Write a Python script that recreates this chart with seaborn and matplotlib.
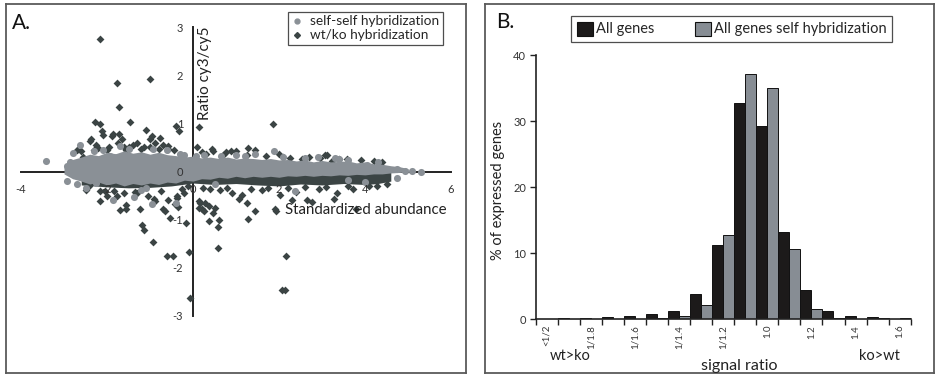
import numpy as np
import pandas as pd
import matplotlib
matplotlib.use('Agg')
import matplotlib.pyplot as plt
from matplotlib.lines import Line2D
from matplotlib.patches import Patch
import seaborn as sns

# ---- panel A: log ratio vs standardized abundance ----
# single spots (outside the dense cloud)
wtko_x = [-2.16, -1.76, -1.01, -1.73, -2.28, -2.16, -1.46, -1.09, -0.39, -0.32, 0.13, 1.85, -2.12, -1.71,
          -2.09, -1.86, -1.66, -0.77, -0.88, -2.38, -2.25, -1.39, -1.74, -0.57, -1.0, 1.29, 1.99, 3.11,
          0.09, 0.47, 0.89, -2.70, -2.55, -1.89, -2.39, -1.0, -0.95, -0.57, -1.2, -1.6, 0.21, 0.44,
          0.76, 0.99, 1.45, 1.26, 2.26, 2.53, 3.07, 2.96, 3.23, 3.58, 4.2, -2.0, -1.3, -0.7, -2.2, -1.55,
          -2.43, -2.16, -1.83, -1.70, -1.56, -1.56, -1.19, -1.15, -0.92, -0.61, -0.47, -0.09, -0.17, -0.07,
          0.57, 0.59, 0.60, 0.38, 0.47, 0.15, 0.20, 0.25, 0.16, 0.27, 0.37, 1.27, 1.45, 1.93, 2.17, 2.07,
          2.13, 2.03, 2.77, 3.27, 3.80, -0.43, -0.37, -0.69, -0.58, -0.90, -1.04, -2.39, -2.16, -1.77,
          -1.23, -0.88, -0.66, -0.53, -0.36, -0.11, 0.24, 0.63, 1.14, 1.6, 1.06, 0.51, 0.13, -0.38, 1.26,
          1.91, 2.30, 2.65, 2.92, 3.35, 3.73, 4.27, -1.3, -2.0, -0.2, 0.9, 2.4,
          -2.6, -2.3, -1.95, -1.5, -1.15, -0.8, -0.45, 0.3, 0.7, 1.7, 2.1, 2.7, 3.4, 3.9, 4.4,
          -2.5, -2.05, -1.6, -1.35, -0.75, -0.25, 0.4, 0.8, 1.35, 1.75, 2.2, 2.6, 3.1, 3.6, 4.1, 4.5]
wtko_y = [2.76, 1.84, 1.93, 1.34, 1.03, 0.98, 1.03, 0.86, 0.95, 0.85, 0.92, 0.98, 0.84, 0.78,
          0.75, 0.77, 0.68, 0.69, 0.60, 0.67, 0.55, 0.56, 0.60, 0.53, 0.50, 0.48, 0.37, 0.35,
          0.52, 0.42, 0.42, 0.44, 0.30, 0.73, 0.63, 0.67, 0.73, 0.46, 0.46, 0.50, 0.40, 0.46,
          0.40, 0.43, 0.44, 0.35, 0.28, 0.25, 0.35, 0.29, 0.22, 0.25, 0.22, 0.45, 0.60, 0.55, 0.48, 0.45,
          -0.31, -0.41, -0.41, -0.80, -0.78, -0.69, -1.12, -1.21, -1.47, -1.75, -1.75, -1.68, -1.08, -2.64,
          -1.59, -1.15, -1.0, -1.03, -0.86, -0.76, -0.78, -0.82, -0.65, -0.66, -0.72, -0.98, -0.83, -0.83, -1.76, -2.47,
          -2.47, -0.49, -0.63, -0.57, -0.79, -0.67, -0.55, -0.78, -0.59, -0.58, -0.51, -0.27, -0.62, -0.51,
          -0.79, -0.62, -0.82, -0.96, -0.73, -0.31, -0.34, -0.38, -0.48, -0.38, -0.58, -0.76, -0.62, -0.52, -0.65,
          -0.79, -0.60, -0.60, -0.37, -0.44, -0.37, -0.30, -0.45, -0.50, -0.45, -0.45, -0.42,
          0.42, 0.45, 0.5, 0.52, 0.5, 0.47, 0.44, 0.36, 0.35, 0.33, 0.31, 0.3, 0.27, 0.24, 0.2,
          -0.38, -0.4, -0.44, -0.42, -0.4, -0.36, -0.36, -0.35, -0.36, -0.35, -0.34, -0.33, -0.32, -0.31, -0.3, -0.27]
self_x = [-3.42, -2.94, -2.94, -2.85, -2.79, -2.63, -1.87, -1.38, -0.95, -0.40, -2.26, -1.93, -1.70, -0.94,
          -0.30, 0.08, 1.45, 3.60, 4.05, 4.74, 4.74, 4.93, 5.09, 5.30, 2.37, 3.60, 4.00, 1.88, -2.5, -1.1,
          -0.6, 2.9, 3.3, -2.3, -1.2, 0.5, 1.0, -2.7, -2.1, -1.5, -0.2, 0.25, 0.65, 1.2, 2.1, 2.6, 3.4, 4.3]
self_y = [0.21, -0.20, 0.12, 0.20, 0.39, 0.55, -0.60, -0.53, -0.68, -0.66, -0.23, 0.32, 0.53, 0.46,
          0.36, 0.33, 0.37, 0.24, 0.14, -0.14, 0.06, 0.01, 0.01, 0.0, -0.40, -0.18, -0.21, 0.43, -0.35, -0.35,
          0.45, 0.30, 0.28, 0.42, -0.38, -0.25, 0.35, -0.27, 0.45, 0.47, 0.35, 0.34, 0.33, 0.32, 0.3, 0.28, 0.25, 0.19]

# dense cores (overlapping spots): upper and lower edge along abundance
self_core_x = [-3.0, -2.8, -2.6, -2.4, -2.2, -2.0, -1.8, -1.6, -1.4, -1.2, -1.0, -0.8, -0.6, -0.4, -0.2,
               0.0, 0.2, 0.4, 0.6, 0.8, 1.0, 1.2, 1.4, 1.6, 1.8, 2.0, 2.2, 2.4, 2.6, 2.8, 3.0, 3.2, 3.4,
               3.6, 3.8, 4.0, 4.2, 4.4, 4.6, 4.8, 5.0]
self_core_hi = [0.1, 0.25, 0.3, 0.36, 0.33, 0.4, 0.37, 0.43, 0.38, 0.41, 0.36, 0.4, 0.35, 0.33, 0.3,
                0.32, 0.28, 0.3, 0.27, 0.3, 0.26, 0.28, 0.27, 0.25, 0.27, 0.24, 0.25, 0.22, 0.24, 0.2, 0.23,
                0.2, 0.21, 0.22, 0.18, 0.2, 0.16, 0.15, 0.12, 0.1, 0.06]
self_core_lo = [-0.05, -0.15, -0.2, -0.26, -0.22, -0.28, -0.24, -0.3, -0.25, -0.28, -0.24, -0.27, -0.22,
                -0.24, -0.18, -0.2, -0.15, -0.16, -0.12, -0.14, -0.1, -0.13, -0.1, -0.12, -0.1, -0.12,
                -0.09, -0.1, -0.08, -0.1, -0.08, -0.09, -0.07, -0.08, -0.06, -0.07, -0.05, -0.05, -0.03,
                -0.02, 0.0]
wtko_core_x = [-2.6, -2.0, -1.5, -1.0, -0.5, 0.0, 0.5, 1.0, 1.5, 2.0, 2.5, 3.0, 3.5, 4.0, 4.3, 4.6]
wtko_core_hi = [0.25, 0.35, 0.38, 0.35, 0.32, 0.28, 0.26, 0.24, 0.22, 0.2, 0.18, 0.16, 0.15, 0.13, 0.12, 0.08]
wtko_core_lo = [-0.28, -0.32, -0.34, -0.33, -0.3, -0.24, -0.27, -0.25, -0.28, -0.3, -0.26, -0.28, -0.25,
                -0.27, -0.25, -0.2]

# ---- panel B: distribution of signal ratios ----
bins = list(range(17))
bin_labels = ['<1/2', '1/1.8', '1/1.6', '1/1.4', '1/1.2', '1.0', '1.2', '1.4', '1.6']
all_genes = [0.1, 0.2, 0.15, 0.3, 0.45, 0.85, 1.2, 3.85, 11.2, 32.8, 29.3, 13.3, 4.4, 1.2, 0.55, 0.3, 0.1]
self_hyb = [0.05, 0.05, 0.05, 0.1, 0.1, 0.25, 0.5, 2.2, 12.8, 37.1, 35.0, 10.6, 1.5, 0.2, 0.1, 0.25, 0.15]

dark = '#3b4444'
light = '#8a9096'
bar_black = '#1c1a1a'
bar_grey = '#878d94'

sns.set_theme(style='white')
plt.rcParams['font.family'] = ['Lato', 'DejaVu Sans']
plt.rcParams['axes.unicode_minus'] = False

W, H = 936, 375
fig = plt.figure(figsize=(W / 100, H / 100), dpi=100)

def frame(rect):
    f = fig.add_axes(rect)
    f.set_xticks([]); f.set_yticks([])
    for s in f.spines.values():
        s.set_color('#5a5a5a'); s.set_linewidth(1.3)
    f.set_zorder(-1)
    return f

frame([6 / W, 2 / H, 460 / W, 369 / H])
frame([485 / W, 2 / H, 449 / W, 369 / H])

# panel A
axA = fig.add_axes([21 / W, (H - 315.7) / H, 430 / W, 288.4 / H])
axA.patch.set_alpha(0)
axA.fill_between(wtko_core_x, wtko_core_lo, wtko_core_hi, color=dark, lw=0, zorder=3)
sns.scatterplot(x=wtko_x, y=wtko_y, color=dark, marker='D', s=16, linewidth=0, ax=axA, zorder=3)
axA.fill_between(self_core_x, self_core_lo, self_core_hi, color=light, lw=0, zorder=4)
sns.scatterplot(x=self_x, y=self_y, color=light, marker='o', s=26, linewidth=0, ax=axA, zorder=4)
axA.set_xlim(-4, 6)
axA.set_ylim(-3, 3)
for side in ['top', 'right']:
    axA.spines[side].set_visible(False)
for side in ['left', 'bottom']:
    axA.spines[side].set_position(('data', 0))
    axA.spines[side].set_color('#222222')
    axA.spines[side].set_linewidth(1.4)
    axA.spines[side].set_zorder(2)
axA.set_xticks([-4, -2, 0, 2, 4, 6])
axA.set_xticklabels(['-4', '-2', '0', '2', '4', '6'])
axA.set_yticks([-3, -2, -1, 0, 1, 2, 3])
axA.set_yticklabels(['-3', '-2', '-1', '0', '1', '2', '3'])
axA.tick_params(axis='x', direction='out', length=3, width=1.2, color='#222222', pad=6,
                labelsize=8, labelcolor='#333333')
axA.tick_params(axis='y', direction='out', length=4, width=1.2, color='#222222', pad=3,
                labelsize=8, labelcolor='#333333')
axA.xaxis.set_zorder(5)
axA.yaxis.set_zorder(5)
axA.set_xlabel(''); axA.set_ylabel('')
axA.text(0.428, 0.8415, 'Ratio cy3/cy5', rotation=90, ha='center', va='center', fontsize=11,
         color='#222222', transform=axA.transAxes)
axA.text(0.614, 0.3665, 'Standardized abundance', ha='left', va='center', fontsize=10.8,
         color='#222222', transform=axA.transAxes, zorder=6)

hA = [Line2D([], [], ls='', marker='o', ms=3.5, color=light),
      Line2D([], [], ls='', marker='D', ms=3, color=dark)]
legA = fig.legend(hA, ['self-self hybridization', 'wt/ko hybridization'], loc='upper left',
                  bbox_to_anchor=(288 / W, 1 - 12 / H), fontsize=9.8, frameon=True, fancybox=False,
                  edgecolor='#222222', borderpad=0.25, labelspacing=0.15, handlelength=0.8,
                  handletextpad=0.6, borderaxespad=0)
legA.get_frame().set_linewidth(0.9)

fig.text(12 / W, 1 - 23 / H, 'A.', fontsize=15, ha='left', va='center', color='#111111')

# panel B
axB = fig.add_axes([535.7 / W, (H - 319.3) / H, 375 / W, 264 / H])
axB.patch.set_alpha(0)
dfB = pd.DataFrame({
    'bin': bins * 2,
    'pct': all_genes + self_hyb,
    'series': ['All genes'] * len(bins) + ['All genes self hybridization'] * len(bins),
})
sns.barplot(data=dfB, x='bin', y='pct', hue='series', palette=[bar_black, bar_grey], width=1.0,
            saturation=1, edgecolor='#111111', linewidth=0.7, legend=False, ax=axB)
axB.set_xlim(-0.5, 16.5)
axB.set_ylim(0, 40)
for side in ['top', 'right']:
    axB.spines[side].set_visible(False)
for side in ['left', 'bottom']:
    axB.spines[side].set_color('#222222')
    axB.spines[side].set_linewidth(1.2)
axB.set_xticks(bins[::2])
axB.set_xticklabels(bin_labels, rotation=90)
axB.set_xticks(np.arange(-0.5, 17, 1.0), minor=True)
axB.tick_params(axis='x', which='major', length=0, pad=4, labelsize=7, labelcolor='#333333')
axB.tick_params(axis='x', which='minor', bottom=True, direction='out', length=4, width=1.0, color='#222222')
axB.set_yticks([0, 10, 20, 30, 40])
axB.tick_params(axis='y', direction='out', length=4, width=1.0, color='#222222', pad=3,
                labelsize=8, labelcolor='#333333', left=True)
axB.set_xlabel(''); axB.set_ylabel('')

fig.text(498 / W, 1 - 190 / H, '% of expressed genes', rotation=90, ha='center', va='center',
         fontsize=10.5, color='#222222')
fig.text(570 / W, 1 - 356 / H, 'wt>ko', ha='center', va='center', fontsize=10.5, color='#222222')
fig.text(879 / W, 1 - 356 / H, 'ko>wt', ha='center', va='center', fontsize=10.5, color='#222222')
fig.text(739 / W, 1 - 366 / H, 'signal ratio', ha='center', va='center', fontsize=11.5, color='#222222')
fig.text(496 / W, 1 - 22 / H, 'B.', fontsize=15, ha='left', va='center', color='#111111')

hB = [Patch(facecolor=bar_black, edgecolor='#111111', linewidth=0.8),
      Patch(facecolor=bar_grey, edgecolor='#111111', linewidth=0.8)]
legB = fig.legend(hB, ['All genes', 'All genes self hybridization'], loc='upper left', ncol=2,
                  bbox_to_anchor=(571 / W, 1 - 15.7 / H), fontsize=10.5, frameon=True, fancybox=False,
                  edgecolor='#222222', borderpad=0.4, handlelength=1.1, handleheight=1.1,
                  handletextpad=0.2, columnspacing=2.8, borderaxespad=0)
legB.get_frame().set_linewidth(0.9)

fig.savefig('out.png', dpi=100)
